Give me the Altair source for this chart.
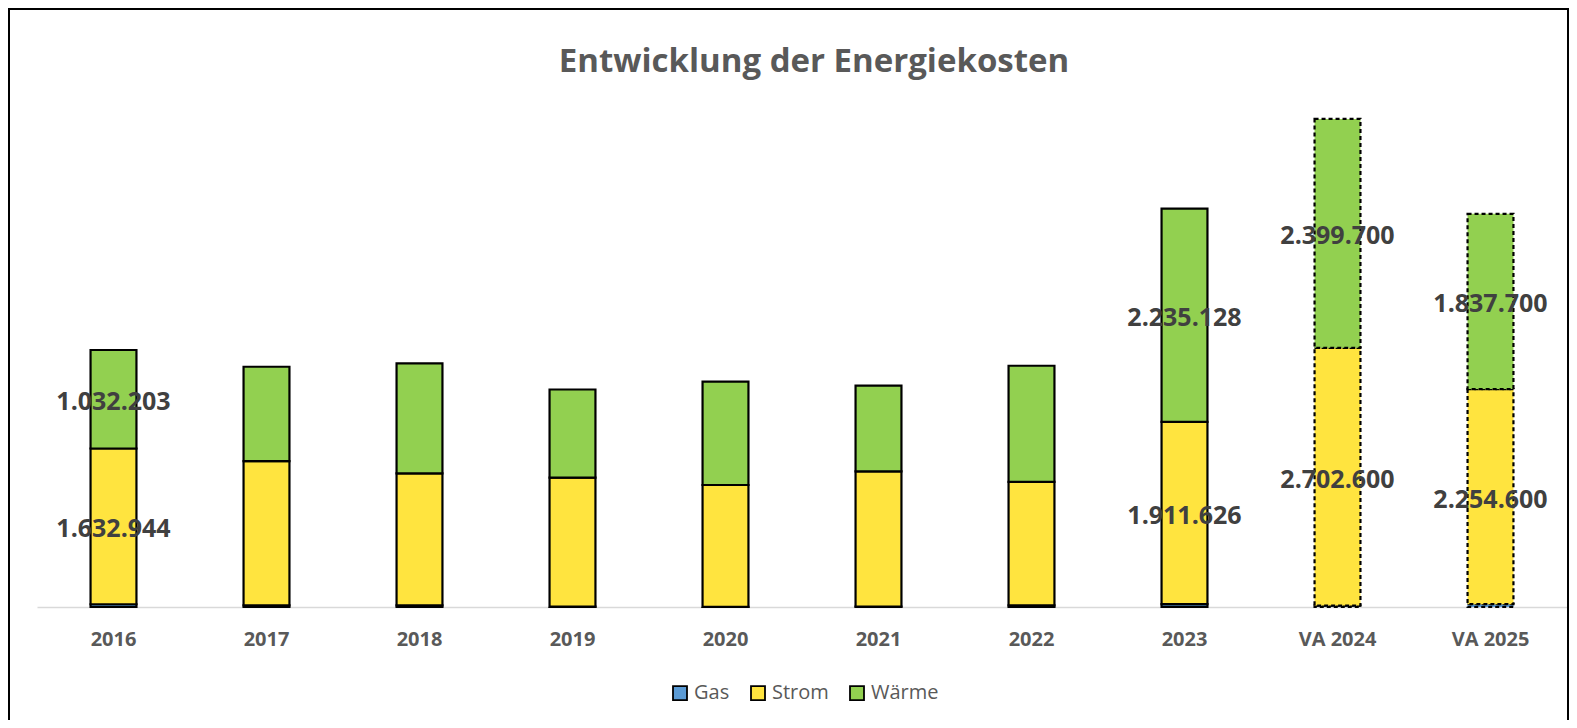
import altair as alt
import pandas as pd

years = ["2016", "2017", "2018", "2019", "2020", "2021", "2022", "2023", "VA 2024", "VA 2025"]
gas = [29000, 18000, 18000, 3000, 2000, 5000, 18000, 30000, 15000, 30000]
strom = [1632944, 1511000, 1382000, 1354000, 1277000, 1417000, 1294000, 1911626, 2702600, 2254600]
waerme = [1032203, 990000, 1154000, 923000, 1084000, 899000, 1217000, 2235128, 2399700, 1837700]
labelled_years = ["2016", "2023", "VA 2024", "VA 2025"]
series = ["Gas", "Strom", "Wärme"]
colors = ["#5B9BD5", "#FFE43F", "#92D050"]

rows = []
for i, y in enumerate(years):
    for k, (name, vals) in enumerate(zip(series, [gas, strom, waerme])):
        v = vals[i]
        rows.append({
            "Jahr": y,
            "Serie": name,
            "ord": k,
            "Wert": v,
            "show": (y in labelled_years) and name != "Gas",
            "label": f"{v:,}".replace(",", "."),
        })
df = pd.DataFrame(rows)

x_enc = alt.X(
    "Jahr:N",
    sort=years,
    scale=alt.Scale(paddingInner=0.7, paddingOuter=0.35),
    axis=alt.Axis(
        title=None, labelAngle=0, ticks=False, labelPadding=22,
        labelFont="Open Sans", labelFontSize=20, labelFontWeight="bold",
        labelColor="#595959", domainColor="#d9d9d9", domainWidth=1.5,
    ),
)

base = alt.Chart(df).transform_stack(
    stack="Wert", as_=["y0", "y1"], groupby=["Jahr"],
    sort=[alt.SortField("ord", order="ascending")],
).transform_calculate(mid="(datum.y0 + datum.y1) / 2")

bars = base.mark_bar(stroke="black", strokeWidth=2.2).encode(
    x=x_enc,
    y=alt.Y("y0:Q", scale=alt.Scale(domain=[0, 5200000], nice=False, zero=True), axis=None),
    y2="y1:Q",
    color=alt.Color(
        "Serie:N",
        scale=alt.Scale(domain=series, range=colors),
        legend=alt.Legend(
            title=None, orient="none", legendX=633, legendY=572,
            direction="horizontal", symbolType="square", symbolSize=196,
            symbolStrokeColor="black", symbolStrokeWidth=1.8,
            labelFont="Open Sans", labelFontSize=20, labelColor="#595959",
            columnPadding=17, labelOffset=4, padding=0,
        ),
    ),
    strokeDash=alt.condition("indexof(datum.Jahr, 'VA') == 0", alt.value([4, 3]), alt.value([1, 0])),
)

texts = base.transform_filter("datum.show").mark_text(
    font="Open Sans", fontSize=25, fontWeight="bold", color="#404040",
    align="center", baseline="middle", dy=3,
).encode(
    x=x_enc,
    y=alt.Y("mid:Q"),
    text="label:N",
)

frame = alt.Chart(pd.DataFrame({"a": [0]})).mark_rect(
    filled=False, stroke="black", strokeWidth=2
).encode(
    x=alt.value(-28), x2=alt.value(1531), y=alt.value(-102), y2=alt.value(700)
)

chart = alt.layer(bars, texts, frame).properties(
    width=1530,
    height=496,
    padding={"left": 29, "top": 103, "right": 2, "bottom": 113},
    autosize=alt.AutoSizeParams(type="none"),
    background="white",
    title=alt.TitleParams(
        "Entwicklung der Energiekosten", font="Open Sans", fontSize=33,
        fontWeight="bold", color="#595959", anchor="middle", dx=12, offset=-71,
    ),
).configure_view(strokeWidth=0)

chart.save("out.html", embed_options={"renderer": "svg", "actions": False})
